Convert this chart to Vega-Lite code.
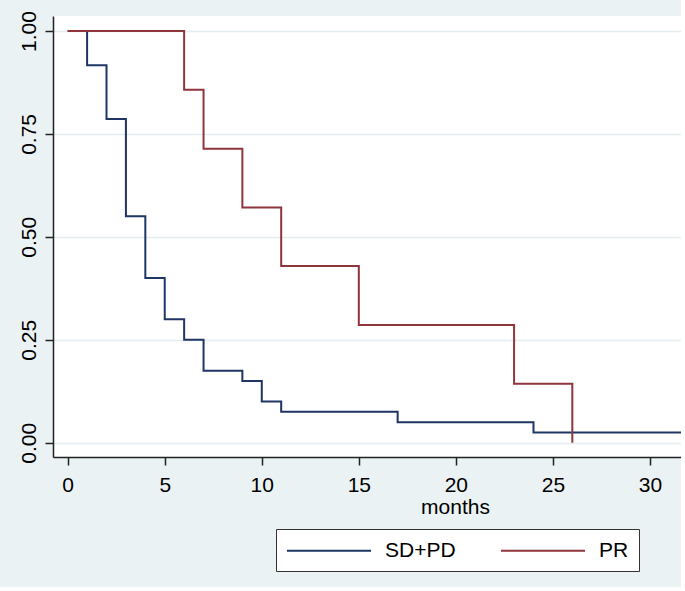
{
  "$schema": "https://vega.github.io/schema/vega-lite/v6.json",
  "autosize": {"type": "none"},
  "width": 628,
  "height": 441,
  "padding": {"left": 53, "top": 16, "right": 0, "bottom": 130},
  "background": "#eaf2f3",
  "config": {
    "font": "Liberation Sans",
    "view": {"fill": "white", "stroke": null},
    "legend": {"strokeColor": "#333", "fillColor": "white"}
  },
  "datasets": {
    "km": [
      {"months": 0, "survival": 1.0, "group": "SD+PD"},
      {"months": 1, "survival": 0.917, "group": "SD+PD"},
      {"months": 2, "survival": 0.786, "group": "SD+PD"},
      {"months": 3, "survival": 0.55, "group": "SD+PD"},
      {"months": 4, "survival": 0.40, "group": "SD+PD"},
      {"months": 5, "survival": 0.30, "group": "SD+PD"},
      {"months": 6, "survival": 0.25, "group": "SD+PD"},
      {"months": 7, "survival": 0.175, "group": "SD+PD"},
      {"months": 9, "survival": 0.15, "group": "SD+PD"},
      {"months": 10, "survival": 0.10, "group": "SD+PD"},
      {"months": 11, "survival": 0.075, "group": "SD+PD"},
      {"months": 17, "survival": 0.05, "group": "SD+PD"},
      {"months": 24, "survival": 0.025, "group": "SD+PD"},
      {"months": 32, "survival": 0.025, "group": "SD+PD"},
      {"months": 0, "survival": 1.0, "group": "PR"},
      {"months": 6, "survival": 0.857, "group": "PR"},
      {"months": 7, "survival": 0.714, "group": "PR"},
      {"months": 9, "survival": 0.571, "group": "PR"},
      {"months": 11, "survival": 0.429, "group": "PR"},
      {"months": 15, "survival": 0.286, "group": "PR"},
      {"months": 23, "survival": 0.143, "group": "PR"},
      {"months": 26, "survival": 0.0, "group": "PR"}
    ]
  },
  "data": {"name": "km"},
  "encoding": {
    "x": {
      "field": "months", "type": "quantitative",
      "scale": {"domain": [-0.757, 31.6], "nice": false, "zero": false},
      "axis": {
        "values": [0, 5, 10, 15, 20, 25, 30],
        "grid": false,
        "title": "months",
        "titleFontSize": 21, "titleFontWeight": "normal", "titleColor": "#000",
        "titleX": 402, "titleY": 56, "titleAlign": "center", "titleBaseline": "alphabetic",
        "labelFontSize": 21, "labelColor": "#000", "labelPadding": 9,
        "tickSize": 8, "tickColor": "#222", "tickWidth": 1.5,
        "domainColor": "#222", "domainWidth": 1.5
      }
    },
    "y": {
      "field": "survival", "type": "quantitative",
      "scale": {"domain": [-0.0347, 1.0364], "nice": false, "zero": false},
      "axis": {
        "values": [0, 0.25, 0.5, 0.75, 1],
        "format": ".2f",
        "title": null,
        "grid": true, "gridColor": "#e3ecef", "gridWidth": 1.5,
        "labelAngle": 270, "labelAlign": "center", "labelBaseline": "alphabetic",
        "labelFontSize": 21, "labelColor": "#000", "labelPadding": 10,
        "tickSize": 8, "tickColor": "#222", "tickWidth": 1.5,
        "domainColor": "#222", "domainWidth": 1.5
      }
    },
    "color": {
      "field": "group", "type": "nominal",
      "scale": {"domain": ["SD+PD", "PR"], "range": ["#1f3566", "#90353b"]},
      "legend": {
        "title": null,
        "orient": "none", "legendX": 223, "legendY": 513,
        "direction": "horizontal",
        "columns": 2,
        "symbolType": "M-1,0L7,0", "symbolSize": 441, "symbolStrokeWidth": 2,
        "symbolFillColor": "transparent",
        "labelFontSize": 21, "labelColor": "#000", "labelOffset": 76,
        "columnPadding": 41,
        "padding": 10
      }
    }
  },
  "layer": [
    {
      "transform": [{"filter": "datum.group === 'SD+PD'"}],
      "mark": {"type": "line", "interpolate": "step-after", "strokeWidth": 2, "clip": true}
    },
    {
      "transform": [{"filter": "datum.group === 'PR'"}],
      "mark": {"type": "line", "interpolate": "step-after", "strokeWidth": 2, "clip": true}
    }
  ]
}
